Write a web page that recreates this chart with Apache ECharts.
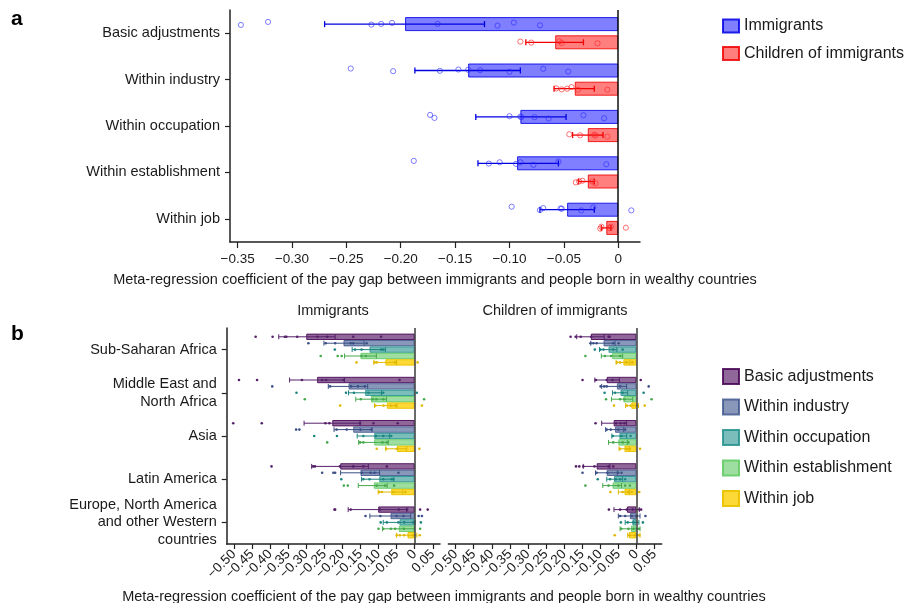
<!DOCTYPE html>
<html>
<head>
<meta charset="utf-8">
<script src="https://cdn.jsdelivr.net/npm/echarts@6.0.0/dist/echarts.min.js"></script>
<style>
html,body{margin:0;padding:0;background:#fff;}
#chart{width:908px;height:603px;}
</style>
</head>
<body>
<div id="chart"></div>
<script>
// ---------------- Panel a data ----------------
const categoriesA = ['Basic adjustments', 'Within industry', 'Within occupation', 'Within establishment', 'Within job'];
const ticksA = [-0.35, -0.30, -0.25, -0.20, -0.15, -0.10, -0.05, 0];

const immigrantsMean = [-0.196, -0.138, -0.090, -0.093, -0.047];
const immigrantsLow  = [-0.270, -0.187, -0.131, -0.129, -0.072];
const immigrantsHigh = [-0.123, -0.090, -0.048, -0.055, -0.022];
const immigrantsPoints = [
  [-0.347, -0.322, -0.227, -0.218, -0.208, -0.166, -0.111, -0.096, -0.072],
  [-0.246, -0.207, -0.164, -0.147, -0.138, -0.127, -0.100, -0.069, -0.046],
  [-0.173, -0.169, -0.100, -0.090, -0.089, -0.077, -0.064, -0.032, -0.013],
  [-0.188, -0.119, -0.109, -0.094, -0.090, -0.078, -0.055, -0.011],
  [-0.098, -0.072, -0.069, -0.053, -0.052, -0.034, -0.023, 0.012]
];
const immigrantsJitter = [
  [0.8, -2.2, 0.5, -0.2, -1.2, -0.2, 1.5, -1.5, 1.2],
  [-2, 0.7, 0.3, -1, -0.7, -0.3, 1.3, -1.7, 1],
  [-2, 1, -0.7, -0.3, 0.3, 0.3, 1.7, -1.7, 1.3],
  [-2.4, 0.3, -1, 0.6, -1, 1.6, -1.7, 1],
  [-3, 0.4, -1.6, -1.3, -1, 0.7, -2.3, 0.7]
];

const childrenMean = [-0.058, -0.040, -0.028, -0.028, -0.011];
const childrenLow  = [-0.085, -0.059, -0.042, -0.0365, -0.0156];
const childrenHigh = [-0.032, -0.022, -0.014, -0.022, -0.0067];
const childrenPoints = [
  [-0.090, -0.080, -0.054, -0.052, -0.019],
  [-0.057, -0.052, -0.047, -0.043, -0.037, -0.010],
  [-0.045, -0.035, -0.022, -0.021, -0.010],
  [-0.039, -0.036, -0.033, -0.024, -0.021],
  [-0.0165, -0.0156, -0.008, -0.0067, 0.007]
];
const childrenJitter = [
  [-0.7, 0.3, -1, 0.7, 1],
  [-0.3, 0.7, 0, -1.6, 1, 1],
  [-0.8, 0.2, -0.5, 0.5, 1.5],
  [0.9, -0.1, -0.8, -0.1, 1.9],
  [0.8, -1.2, 0.2, -1.2, -0.2]
];

// ---------------- Panel b data ----------------
const regions = ['Sub-Saharan Africa', 'Middle East and\nNorth Africa', 'Asia', 'Latin America', 'Europe, North America\nand other Western\ncountries'];
const specs = ['Basic adjustments', 'Within industry', 'Within occupation', 'Within establishment', 'Within job'];
const ticksB = [-0.50, -0.45, -0.40, -0.35, -0.30, -0.25, -0.20, -0.15, -0.10, -0.05, 0, 0.05];

// Immigrants: [spec][region]
const immMeanB = [
  [-0.300, -0.270, -0.228, -0.206, -0.101],
  [-0.197, -0.183, -0.170, -0.150, -0.067],
  [-0.125, -0.137, -0.112, -0.098, -0.042],
  [-0.150, -0.121, -0.112, -0.113, -0.044],
  [-0.081, -0.077, -0.049, -0.065, -0.020]
];
const immLowB = [
  [-0.376, -0.346, -0.306, -0.285, -0.184],
  [-0.251, -0.239, -0.223, -0.205, -0.124],
  [-0.173, -0.183, -0.159, -0.147, -0.087],
  [-0.194, -0.163, -0.155, -0.156, -0.089],
  [-0.113, -0.111, -0.080, -0.101, -0.050]
];
const immHighB = [
  [-0.220, -0.194, -0.151, -0.128, -0.022],
  [-0.140, -0.130, -0.118, -0.097, -0.011],
  [-0.081, -0.092, -0.070, -0.058, 0.001],
  [-0.106, -0.078, -0.073, -0.076, -0.001],
  [-0.050, -0.049, -0.022, -0.033, 0.006]
];
const immPointsB = [
  [[-0.440, -0.393, -0.359, -0.355, -0.325, -0.269, -0.242, -0.170, -0.093],
   [-0.486, -0.436, -0.312, -0.256, -0.245, -0.197, -0.042],
   [-0.502, -0.423, -0.247, -0.236, -0.151, -0.114, -0.047],
   [-0.396, -0.281, -0.276, -0.207, -0.170, -0.142, -0.077],
   [-0.222, -0.220, -0.177, -0.096, -0.044, -0.021, 0.015, 0.036]],
  [[-0.294, -0.246, -0.220, -0.177, -0.170, -0.133],
   [-0.394, -0.234, -0.176, -0.157, -0.138],
   [-0.328, -0.319, -0.216, -0.188, -0.150, -0.120],
   [-0.256, -0.225, -0.220, -0.146, -0.122, -0.111, -0.045],
   [-0.136, -0.095, -0.050, -0.031, 0.011, 0.020]],
  [[-0.221, -0.165, -0.147, -0.093, -0.087],
   [-0.327, -0.190, -0.168, -0.128, -0.087, 0.006],
   [-0.278, -0.215, -0.142, -0.107, -0.087, -0.065],
   [-0.203, -0.142, -0.125, -0.087, -0.064, -0.059],
   [-0.094, -0.077, -0.045, -0.029, -0.004, 0.017]],
  [[-0.260, -0.213, -0.202, -0.147, -0.135],
   [-0.304, -0.149, -0.116, -0.106, -0.087, 0.026],
   [-0.242, -0.151, -0.142, -0.089, -0.077],
   [-0.196, -0.185, -0.105, -0.082, -0.057],
   [-0.100, -0.087, -0.066, -0.054, -0.030, 0.015]],
  [[-0.161, -0.111, -0.105, -0.054, 0.008],
   [-0.206, -0.109, -0.086, -0.066, -0.053, 0.020],
   [-0.105, -0.079, -0.049, 0.013],
   [-0.098, -0.091, -0.059, -0.026],
   [-0.050, -0.041, -0.029, -0.004, 0.014]]
];

// Children of immigrants: [spec][region]
const chiMeanB = [
  [-0.126, -0.082, -0.063, -0.110, -0.026],
  [-0.091, -0.054, -0.059, -0.082, -0.018],
  [-0.077, -0.044, -0.047, -0.062, -0.011],
  [-0.067, -0.036, -0.050, -0.066, -0.015],
  [-0.036, -0.014, -0.033, -0.033, -0.021]
];
const chiLowB = [
  [-0.165, -0.115, -0.096, -0.147, -0.062],
  [-0.126, -0.096, -0.085, -0.113, -0.050],
  [-0.102, -0.066, -0.068, -0.082, -0.031],
  [-0.097, -0.069, -0.077, -0.093, -0.045],
  [-0.056, -0.030, -0.048, -0.050, -0.024]
];
const chiHighB = [
  [-0.089, -0.047, -0.027, -0.073, 0.008],
  [-0.059, -0.027, -0.035, -0.053, 0.010],
  [-0.054, -0.024, -0.027, -0.038, 0.007],
  [-0.038, -0.010, -0.025, -0.041, 0.010],
  [-0.018, 0.006, -0.020, -0.019, 0.010]
];
const chiPointsB = [
  [[-0.182, -0.168, -0.154, -0.125, -0.077, -0.074],
   [-0.149, -0.112, -0.082, -0.066, 0.012],
   [-0.113, -0.056, -0.044, -0.033],
   [-0.167, -0.158, -0.147, -0.116, -0.077, -0.064],
   [-0.076, -0.045, -0.027, -0.010, 0.008, 0.013]],
  [[-0.127, -0.119, -0.110, -0.064, -0.049],
   [-0.099, -0.089, -0.082, -0.045, 0.034],
   [-0.082, -0.071, -0.050, -0.031],
   [-0.149, -0.110, -0.080, -0.050, -0.041],
   [-0.045, -0.031, -0.013, 0.001, 0.025]],
  [[-0.115, -0.099, -0.091, -0.064, -0.038],
   [-0.088, -0.059, -0.038, 0.020],
   [-0.065, -0.041, -0.016],
   [-0.107, -0.073, -0.057, -0.045, -0.031],
   [-0.043, -0.024, -0.008, 0.018]],
  [[-0.141, -0.087, -0.070, -0.045],
   [-0.084, -0.045, -0.033, 0.042],
   [-0.064, -0.038, -0.022],
   [-0.141, -0.077, -0.050, -0.031, -0.018],
   [-0.042, -0.022, -0.008, 0.007]],
  [[-0.054, -0.045, -0.027, -0.011],
   [-0.062, -0.026, -0.016, 0.023],
   [-0.045, -0.027, -0.018, 0.010],
   [-0.072, -0.038, -0.022, -0.013, 0.008],
   [-0.060, -0.019, -0.004, 0.008]]
];

// ---------------- styling ----------------
const FONT = "'Liberation Sans', Arial, Helvetica, sans-serif";
const TXT = '#1a1a1a';
const specFill = ['rgba(68,1,84,0.6)', 'rgba(59,82,139,0.6)', 'rgba(33,145,140,0.6)', 'rgba(94,201,98,0.6)', 'rgba(252,210,20,0.85)'];
const specStroke = ['rgba(68,1,84,0.85)', 'rgba(59,82,139,0.8)', 'rgba(33,145,140,0.85)', 'rgba(94,201,98,0.85)', 'rgba(235,195,0,0.95)'];
const specDark = ['#55206a', '#3b4f86', '#1d8580', '#45a84b', '#e0b800'];

const BAR_A = 14, GAP_A = 0.3;
const BAR_B = 6.4;

function fmt(v) {
  if (Math.abs(v) < 1e-9) return '0';
  return (v < 0 ? '\u2212' : '') + Math.abs(v).toFixed(2);
}

function errRender(offset, capH, color, lw) {
  return function (params, api) {
    const a = api.coord([api.value(0), api.value(2)]);
    const b = api.coord([api.value(1), api.value(2)]);
    const y = a[1] + offset;
    const st = { stroke: color, lineWidth: lw };
    return {
      type: 'group',
      children: [
        { type: 'line', shape: { x1: a[0], y1: y, x2: b[0], y2: y }, style: st },
        { type: 'line', shape: { x1: a[0], y1: y - capH / 2, x2: a[0], y2: y + capH / 2 }, style: st },
        { type: 'line', shape: { x1: b[0], y1: y - capH / 2, x2: b[0], y2: y + capH / 2 }, style: st }
      ]
    };
  };
}
function ptRender(offset, r, stroke, fill, lw) {
  return function (params, api) {
    const p = api.coord([api.value(0), api.value(1)]);
    return {
      type: 'circle',
      shape: { cx: p[0], cy: p[1] + offset + (api.value(2) || 0), r: r },
      style: { fill: fill, stroke: stroke, lineWidth: lw }
    };
  };
}
function errData(lo, hi) { return lo.map((v, i) => [v, hi[i], i]); }
function ptData(pts, jit) {
  const out = [];
  pts.forEach((arr, i) => arr.forEach((v, j) => out.push([v, i, jit ? jit[i][j] : 0])));
  return out;
}

const offA = BAR_A * (1 + GAP_A) / 2;

const series = [];
// Panel a bars
series.push({
  name: 'Immigrants', type: 'bar', xAxisIndex: 0, yAxisIndex: 0,
  data: immigrantsMean, barWidth: BAR_A, barGap: (GAP_A * 100) + '%',
  itemStyle: { color: 'rgba(0,0,255,0.5)', borderColor: 'rgba(0,0,230,0.85)', borderWidth: 1 },
  z: 2,
  markLine: { silent: true, symbol: 'none', label: { show: false }, animation: false,
    lineStyle: { color: '#111', width: 1.5, type: 'solid' }, data: [{ xAxis: 0 }] }
});
series.push({
  name: 'Children of immigrants', type: 'bar', xAxisIndex: 0, yAxisIndex: 0,
  data: childrenMean, barWidth: BAR_A, barGap: (GAP_A * 100) + '%',
  itemStyle: { color: 'rgba(255,0,0,0.5)', borderColor: 'rgba(240,0,0,0.85)', borderWidth: 1 },
  z: 2
});
series.push({ name: '_errImm', type: 'custom', xAxisIndex: 0, yAxisIndex: 0, z: 3,
  renderItem: errRender(-offA, 6, '#0000e0', 1.3), encode: { x: [0, 1], y: 2 },
  data: errData(immigrantsLow, immigrantsHigh) });
series.push({ name: '_errChi', type: 'custom', xAxisIndex: 0, yAxisIndex: 0, z: 3,
  renderItem: errRender(offA, 6, '#f00000', 1.3), encode: { x: [0, 1], y: 2 },
  data: errData(childrenLow, childrenHigh) });
series.push({ name: '_ptImm', type: 'custom', xAxisIndex: 0, yAxisIndex: 0, z: 4,
  renderItem: ptRender(-offA, 2.6, 'rgba(40,40,255,0.6)', 'rgba(0,0,0,0)', 1), encode: { x: 0, y: 1 },
  data: ptData(immigrantsPoints, immigrantsJitter) });
series.push({ name: '_ptChi', type: 'custom', xAxisIndex: 0, yAxisIndex: 0, z: 4,
  renderItem: ptRender(offA, 2.6, 'rgba(255,40,40,0.65)', 'rgba(0,0,0,0)', 1), encode: { x: 0, y: 1 },
  data: ptData(childrenPoints, childrenJitter) });

// Panel b
function addPanelB(axisIdx, meanArr, lowArr, highArr, ptsArr) {
  specs.forEach((name, k) => {
    const s = {
      name: name, type: 'bar', xAxisIndex: axisIdx, yAxisIndex: axisIdx,
      data: meanArr[k], barWidth: BAR_B, barGap: '0%',
      itemStyle: { color: specFill[k], borderColor: specStroke[k], borderWidth: 1 },
      z: 2
    };
    if (k === 0) {
      s.markLine = { silent: true, symbol: 'none', label: { show: false }, animation: false,
        lineStyle: { color: '#3a3a3a', width: 1.5, type: 'solid' }, data: [{ xAxis: 0 }] };
    }
    series.push(s);
  });
  specs.forEach((name, k) => {
    const off = (k - 2) * BAR_B;
    series.push({ name: '_errB' + axisIdx + k, type: 'custom', xAxisIndex: axisIdx, yAxisIndex: axisIdx, z: 3,
      renderItem: errRender(off, 5, specDark[k], 1), encode: { x: [0, 1], y: 2 },
      data: errData(lowArr[k], highArr[k]) });
    series.push({ name: '_ptB' + axisIdx + k, type: 'custom', xAxisIndex: axisIdx, yAxisIndex: axisIdx, z: 4,
      renderItem: ptRender(off, 1.3, 'rgba(0,0,0,0)', specDark[k], 0), encode: { x: 0, y: 1 },
      data: ptData(ptsArr[k], null) });
  });
}
addPanelB(1, immMeanB, immLowB, immHighB, immPointsB);
addPanelB(2, chiMeanB, chiLowB, chiHighB, chiPointsB);

// panel b tick labels split over two axes (alternating) so none is auto-hidden
const ticksB_even = ticksB.filter((v, i) => i % 2 === 0);
const ticksB_odd = ticksB.filter((v, i) => i % 2 === 1);

const axisLineStyle = { color: '#222', width: 1.5 };
function xAxisCfg(grid, min, max, tickVals, labelVals, rotate, fs, margin, tickLen, showLine) {
  return {
    gridIndex: grid, type: 'value', min: min, max: max, position: 'bottom',
    axisLine: { show: showLine, onZero: false, lineStyle: axisLineStyle },
    axisTick: { show: showLine, length: tickLen, customValues: tickVals, lineStyle: { color: '#222', width: 1.2 } },
    axisLabel: { customValues: labelVals, formatter: fmt, rotate: rotate, fontSize: fs, color: TXT, fontFamily: FONT,
      margin: margin, hideOverlap: false, showMinLabel: true, showMaxLabel: true },
    splitLine: { show: false }
  };
}

const option = {
  animation: false,
  backgroundColor: '#fff',
  textStyle: { fontFamily: FONT, color: TXT },
  grid: [
    { left: 230, top: 10, width: 410, height: 232 },
    { left: 226.7, top: 328, width: 213.3, height: 216 },
    { left: 448.4, top: 328, width: 213.3, height: 216 }
  ],
  xAxis: [
    xAxisCfg(0, -0.357, 0.02, ticksA, ticksA, 0, 13.5, 10, 6, true),
    xAxisCfg(1, -0.52, 0.07, ticksB, ticksB_even, 45, 13.5, 8, 5, true),
    xAxisCfg(2, -0.52, 0.07, ticksB, ticksB_even, 45, 13.5, 8, 5, true),
    xAxisCfg(1, -0.52, 0.07, ticksB, ticksB_odd, 45, 13.5, 8, 5, false),
    xAxisCfg(2, -0.52, 0.07, ticksB, ticksB_odd, 45, 13.5, 8, 5, false)
  ],
  yAxis: [
    { gridIndex: 0, type: 'category', data: categoriesA, inverse: true,
      axisLine: { show: true, onZero: false, lineStyle: axisLineStyle },
      axisTick: { show: true, alignWithLabel: true, length: 5, lineStyle: { color: '#222', width: 1.2 } },
      axisLabel: { fontSize: 14.5, color: TXT, fontFamily: FONT, margin: 10 },
      splitLine: { show: false } },
    { gridIndex: 1, type: 'category', data: regions, inverse: true,
      axisLine: { show: true, onZero: false, lineStyle: axisLineStyle },
      axisTick: { show: true, alignWithLabel: true, length: 5, lineStyle: { color: '#222', width: 1.2 } },
      axisLabel: { fontSize: 14.5, color: TXT, fontFamily: FONT, margin: 10, lineHeight: 17.5, align: 'right' },
      splitLine: { show: false } },
    { gridIndex: 2, type: 'category', data: regions, inverse: true, show: false,
      axisLine: { show: false, onZero: false } }
  ],
  legend: [
    { data: ['Immigrants', 'Children of immigrants'], orient: 'vertical', left: 722, top: 18, padding: 0,
      icon: 'rect', itemWidth: 16, itemHeight: 13, itemGap: 11.4, selectedMode: false,
      textStyle: { fontSize: 16, color: TXT, fontFamily: FONT } },
    { data: specs, orient: 'vertical', left: 722, top: 368, padding: 0,
      icon: 'rect', itemWidth: 16, itemHeight: 15, itemGap: 13.5, selectedMode: false,
      textStyle: { fontSize: 16, color: TXT, fontFamily: FONT } }
  ],
  graphic: [
    { type: 'text', x: 11, y: 19, style: { text: 'a', font: 'bold 21px ' + FONT, fill: '#000', textVerticalAlign: 'middle' } },
    { type: 'text', x: 11, y: 334, style: { text: 'b', font: 'bold 21px ' + FONT, fill: '#000', textVerticalAlign: 'middle' } },
    { type: 'text', x: 435, y: 280, style: { text: 'Meta-regression coefficient of the pay gap between immigrants and people born in wealthy countries', font: '14.5px ' + FONT, fill: TXT, textAlign: 'center', textVerticalAlign: 'middle' } },
    { type: 'text', x: 444, y: 597, style: { text: 'Meta-regression coefficient of the pay gap between immigrants and people born in wealthy countries', font: '14.5px ' + FONT, fill: TXT, textAlign: 'center', textVerticalAlign: 'middle' } },
    { type: 'text', x: 333, y: 311, style: { text: 'Immigrants', font: '14.5px ' + FONT, fill: TXT, textAlign: 'center', textVerticalAlign: 'middle' } },
    { type: 'text', x: 555, y: 311, style: { text: 'Children of immigrants', font: '14.5px ' + FONT, fill: TXT, textAlign: 'center', textVerticalAlign: 'middle' } }
  ],
  series: series
};

const chart = echarts.init(document.getElementById('chart'), null, { renderer: 'canvas' });
chart.setOption(option);
</script>
</body>
</html>
